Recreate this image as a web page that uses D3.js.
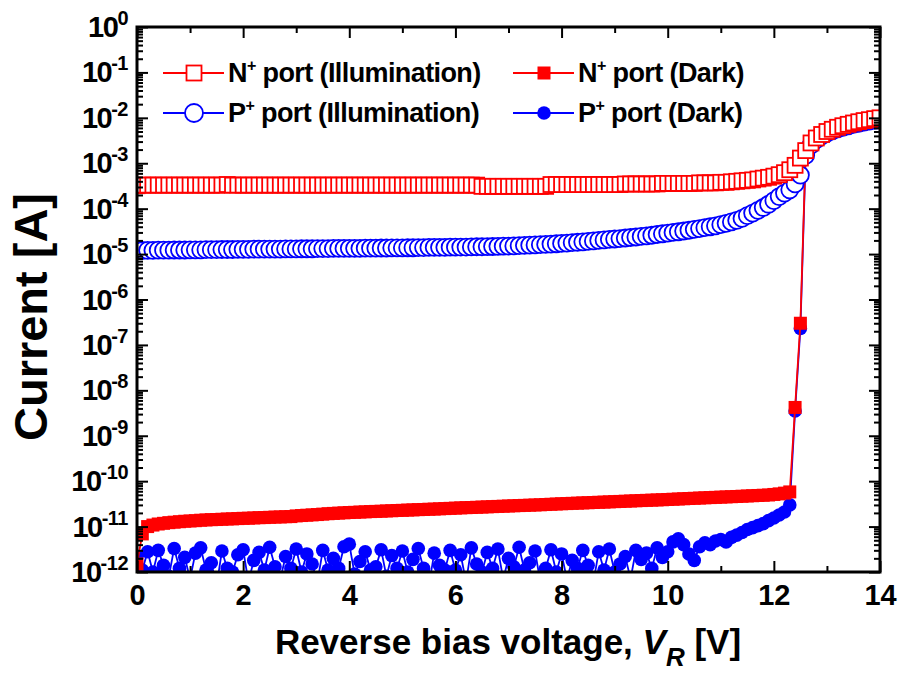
<!DOCTYPE html>
<html>
<head>
<meta charset="utf-8">
<script src="https://cdn.jsdelivr.net/npm/d3@7"></script>
<style>
  html, body { margin: 0; padding: 0; background: #fff; }
  svg { display: block; font-family: "Liberation Sans", Arial, sans-serif; font-weight: bold; }
</style>
</head>
<body>
<svg id="chart" width="903" height="674"></svg>
<script>
// Reverse-bias sweep: 0 V to 14 V in 0.1 V steps
const sweepStart = 0, sweepStep = 0.1, sweepCount = 141;
const voltage = d3.range(sweepCount).map(i => +(sweepStart + i * sweepStep).toFixed(1));

// N+ port under illumination [A]
const nIllum = [
  3.2e-4,3.3e-4,3.3e-4,3.3e-4,3.3e-4,3.3e-4,3.3e-4,3.3e-4,3.3e-4,3.3e-4,
  3.3e-4,3.3e-4,3.3e-4,3.3e-4,3.3e-4,3.3e-4,3.3e-4,3.4e-4,3.3e-4,3.3e-4,
  3.3e-4,3.3e-4,3.3e-4,3.3e-4,3.3e-4,3.3e-4,3.3e-4,3.3e-4,3.3e-4,3.3e-4,
  3.3e-4,3.3e-4,3.3e-4,3.3e-4,3.3e-4,3.3e-4,3.3e-4,3.3e-4,3.3e-4,3.3e-4,
  3.3e-4,3.3e-4,3.3e-4,3.3e-4,3.3e-4,3.3e-4,3.3e-4,3.3e-4,3.3e-4,3.3e-4,
  3.3e-4,3.3e-4,3.3e-4,3.3e-4,3.3e-4,3.3e-4,3.3e-4,3.3e-4,3.3e-4,3.3e-4,
  3.3e-4,3.3e-4,3.3e-4,3.3e-4,3.3e-4,3.1e-4,3.1e-4,3.1e-4,3.1e-4,3.1e-4,
  3.1e-4,3.1e-4,3.1e-4,3.1e-4,3.1e-4,3.1e-4,3.1e-4,3.1e-4,3.4e-4,3.4e-4,
  3.4e-4,3.4e-4,3.4e-4,3.4e-4,3.4e-4,3.4e-4,3.4e-4,3.4e-4,3.4e-4,3.4e-4,
  3.4e-4,3.4e-4,3.5e-4,3.5e-4,3.5e-4,3.5e-4,3.5e-4,3.5e-4,3.5e-4,3.6e-4,
  3.6e-4,3.6e-4,3.6e-4,3.6e-4,3.6e-4,3.6e-4,3.7e-4,3.7e-4,3.7e-4,3.7e-4,
  3.8e-4,3.8e-4,3.9e-4,4.0e-4,4.1e-4,4.2e-4,4.3e-4,4.5e-4,4.7e-4,4.9e-4,
  5.2e-4,5.6e-4,6.2e-4,7.2e-4,9.0e-4,1.3e-3,1.9e-3,2.8e-3,3.6e-3,4.3e-3,
  5.0e-3,5.6e-3,6.2e-3,6.7e-3,7.2e-3,7.7e-3,8.2e-3,8.7e-3,9.1e-3,9.6e-3,
  1.0e-2
];

// P+ port under illumination [A]
const pIllum = [
  1.20e-5,1.20e-5,1.21e-5,1.21e-5,1.22e-5,1.22e-5,1.22e-5,1.23e-5,1.23e-5,1.23e-5,
  1.24e-5,1.24e-5,1.24e-5,1.25e-5,1.25e-5,1.25e-5,1.26e-5,1.26e-5,1.26e-5,1.27e-5,
  1.27e-5,1.27e-5,1.28e-5,1.28e-5,1.28e-5,1.29e-5,1.29e-5,1.29e-5,1.30e-5,1.30e-5,
  1.30e-5,1.31e-5,1.31e-5,1.31e-5,1.32e-5,1.32e-5,1.32e-5,1.33e-5,1.33e-5,1.33e-5,
  1.34e-5,1.34e-5,1.34e-5,1.35e-5,1.35e-5,1.35e-5,1.36e-5,1.36e-5,1.37e-5,1.37e-5,
  1.37e-5,1.38e-5,1.38e-5,1.39e-5,1.39e-5,1.40e-5,1.40e-5,1.41e-5,1.41e-5,1.42e-5,
  1.42e-5,1.43e-5,1.43e-5,1.44e-5,1.45e-5,1.45e-5,1.46e-5,1.47e-5,1.48e-5,1.49e-5,
  1.50e-5,1.51e-5,1.53e-5,1.55e-5,1.57e-5,1.59e-5,1.61e-5,1.63e-5,1.66e-5,1.69e-5,
  1.72e-5,1.75e-5,1.78e-5,1.82e-5,1.86e-5,1.90e-5,1.95e-5,2.00e-5,2.05e-5,2.10e-5,
  2.15e-5,2.20e-5,2.26e-5,2.32e-5,2.38e-5,2.45e-5,2.52e-5,2.60e-5,2.70e-5,2.80e-5,
  2.90e-5,3.00e-5,3.10e-5,3.22e-5,3.35e-5,3.50e-5,3.65e-5,3.82e-5,4.00e-5,4.20e-5,
  4.45e-5,4.75e-5,5.10e-5,5.50e-5,6.10e-5,7.00e-5,8.00e-5,9.20e-5,1.06e-4,1.25e-4,
  1.50e-4,1.85e-4,2.20e-4,2.60e-4,3.50e-4,5.50e-4,1.50e-3,2.50e-3,3.30e-3,4.00e-3,
  4.60e-3,5.20e-3,5.75e-3,6.20e-3,6.70e-3,7.20e-3,7.60e-3,8.10e-3,8.50e-3,8.90e-3,
  9.30e-3
];

// N+ port in the dark [A]
const nDark = [
  1.5e-12,6.9e-12,1.00e-11,1.08e-11,1.14e-11,1.18e-11,1.22e-11,1.25e-11,1.28e-11,1.31e-11,
  1.33e-11,1.35e-11,1.38e-11,1.40e-11,1.42e-11,1.43e-11,1.45e-11,1.47e-11,1.48e-11,1.50e-11,
  1.52e-11,1.53e-11,1.55e-11,1.57e-11,1.58e-11,1.60e-11,1.62e-11,1.63e-11,1.65e-11,1.66e-11,
  1.72e-11,1.75e-11,1.78e-11,1.81e-11,1.84e-11,1.88e-11,1.92e-11,1.95e-11,1.98e-11,2.01e-11,
  2.04e-11,2.06e-11,2.09e-11,2.11e-11,2.14e-11,2.16e-11,2.18e-11,2.21e-11,2.23e-11,2.26e-11,
  2.28e-11,2.31e-11,2.33e-11,2.36e-11,2.38e-11,2.41e-11,2.43e-11,2.46e-11,2.49e-11,2.52e-11,
  2.55e-11,2.58e-11,2.61e-11,2.63e-11,2.66e-11,2.69e-11,2.72e-11,2.75e-11,2.78e-11,2.81e-11,
  2.84e-11,2.87e-11,2.90e-11,2.93e-11,2.96e-11,2.99e-11,3.02e-11,3.06e-11,3.10e-11,3.14e-11,
  3.18e-11,3.21e-11,3.25e-11,3.28e-11,3.32e-11,3.35e-11,3.39e-11,3.43e-11,3.46e-11,3.50e-11,
  3.54e-11,3.58e-11,3.62e-11,3.66e-11,3.70e-11,3.74e-11,3.78e-11,3.82e-11,3.86e-11,3.90e-11,
  3.95e-11,4.00e-11,4.05e-11,4.10e-11,4.15e-11,4.20e-11,4.25e-11,4.30e-11,4.35e-11,4.40e-11,
  4.45e-11,4.50e-11,4.55e-11,4.60e-11,4.66e-11,4.72e-11,4.78e-11,4.84e-11,4.90e-11,4.96e-11,
  5.10e-11,5.25e-11,5.45e-11,5.80e-11,4.2e-9,3.0e-7,1.9e-3,2.8e-3,3.6e-3,4.3e-3,
  5.0e-3,5.6e-3,6.2e-3,6.7e-3,7.2e-3,7.7e-3,8.2e-3,8.7e-3,9.1e-3,9.6e-3,
  1.0e-2
];

// P+ port in the dark [A]
const pDark = [
  2.2e-12,1.1e-12,2.8e-12,1.0e-12,3.0e-12,1.4e-12,0.8e-12,3.3e-12,1.2e-12,2.1e-12,
  0.7e-12,2.6e-12,3.4e-12,1.1e-12,1.6e-12,0.5e-12,2.9e-12,1.2e-12,1.0e-12,2.4e-12,
  3.1e-12,0.6e-12,1.8e-12,2.7e-12,1.1e-12,3.5e-12,1.3e-12,0.7e-12,2.2e-12,1.2e-12,
  3.2e-12,1.0e-12,2.5e-12,1.5e-12,0.6e-12,3.0e-12,1.1e-12,2.0e-12,1.2e-12,3.6e-12,
  4.1e-12,0.9e-12,1.7e-12,2.8e-12,1.1e-12,1.3e-12,3.1e-12,0.8e-12,2.3e-12,1.2e-12,
  2.9e-12,1.0e-12,1.9e-12,3.3e-12,1.2e-12,0.5e-12,2.6e-12,1.4e-12,1.1e-12,3.0e-12,
  1.1e-12,2.4e-12,0.6e-12,3.4e-12,1.5e-12,1.0e-12,2.7e-12,1.2e-12,3.2e-12,0.7e-12,
  2.0e-12,1.3e-12,3.5e-12,1.1e-12,1.6e-12,2.9e-12,0.6e-12,1.2e-12,3.1e-12,1.0e-12,
  2.5e-12,0.7e-12,1.8e-12,1.2e-12,3.0e-12,1.4e-12,0.6e-12,2.8e-12,1.1e-12,3.2e-12,
  1.0e-12,1.5e-12,2.2e-12,0.7e-12,3.0e-12,1.9e-12,2.6e-12,1.2e-12,3.4e-12,2.1e-12,
  2.8e-12,4.6e-12,5.4e-12,4.0e-12,2.5e-12,1.8e-12,3.6e-12,4.4e-12,4.0e-12,4.8e-12,
  5.2e-12,4.6e-12,5.8e-12,6.5e-12,7.4e-12,8.6e-12,9.5e-12,1.05e-11,1.16e-11,1.35e-11,
  1.55e-11,1.80e-11,2.10e-11,3.00e-11,3.5e-9,2.3e-7,1.50e-3,2.50e-3,3.30e-3,4.00e-3,
  4.60e-3,5.20e-3,5.75e-3,6.20e-3,6.70e-3,7.20e-3,7.60e-3,8.10e-3,8.50e-3,8.90e-3,
  9.30e-3
];

const xTicks = [0, 2, 4, 6, 8, 10, 12, 14];
const xMinorTicks = [1, 3, 5, 7, 9, 11, 13];
const yDecades = [0, -1, -2, -3, -4, -5, -6, -7, -8, -9, -10, -11, -12];

const RED = "#ff0000", BLUE = "#0000ff";
const svg = d3.select("#chart");
const frame = { left: 137, right: 880, top: 27, bottom: 572 };

const x = d3.scaleLinear().domain([0, 14]).range([frame.left, frame.right]);
const y = d3.scaleLog().domain([1e-12, 1]).range([frame.bottom, frame.top]);

const majorY = yDecades.map(e => Math.pow(10, e));
const minorY = [];
yDecades.slice(1).forEach(e => { for (let m = 2; m <= 9; m++) minorY.push(m * Math.pow(10, e)); });

// Data layer, clipped to the frame
svg.append("clipPath").attr("id", "plotClip")
  .append("rect").attr("x", frame.left).attr("y", frame.top)
  .attr("width", frame.right - frame.left).attr("height", frame.bottom - frame.top);
const plot = svg.append("g").attr("clip-path", "url(#plotClip)");

function series(values) { return voltage.map((v, i) => ({ v, i: values[i] })); }
const line = d3.line().x(d => x(d.v)).y(d => y(d.i));

// P+ dark
const pd = series(pDark);
plot.append("path").datum(pd).attr("d", line).attr("fill", "none").attr("stroke", BLUE).attr("stroke-width", 1.8);
plot.append("g").selectAll("circle").data(pd).join("circle")
  .attr("cx", d => x(d.v)).attr("cy", d => y(d.i)).attr("r", 6.8).attr("fill", BLUE);

// N+ dark
const nd = series(nDark);
plot.append("path").datum(nd).attr("d", line).attr("fill", "none").attr("stroke", RED).attr("stroke-width", 1.8);
plot.append("g").selectAll("rect").data(nd).join("rect")
  .attr("x", d => x(d.v) - 6.5).attr("y", d => y(d.i) - 6.5).attr("width", 13).attr("height", 13).attr("fill", RED);

// P+ illumination
const pi = series(pIllum);
plot.append("path").datum(pi).attr("d", line).attr("fill", "none").attr("stroke", BLUE).attr("stroke-width", 1.8);
plot.append("g").selectAll("circle").data(pi).join("circle")
  .attr("cx", d => x(d.v)).attr("cy", d => y(d.i)).attr("r", 8.5)
  .attr("fill", "#fff").attr("stroke", BLUE).attr("stroke-width", 1.8);

// N+ illumination
const ni = series(nIllum);
plot.append("path").datum(ni).attr("d", line).attr("fill", "none").attr("stroke", RED).attr("stroke-width", 1.8);
plot.append("g").selectAll("rect").data(ni).join("rect")
  .attr("x", d => x(d.v) - 7.5).attr("y", d => y(d.i) - 7.5).attr("width", 15).attr("height", 15)
  .attr("fill", "#fff").attr("stroke", RED).attr("stroke-width", 1.8);

// Axes: ticks point inward on all four sides
function styleAxis(g) {
  g.select(".domain").remove();
  g.selectAll(".tick line").attr("stroke", "#000").attr("stroke-width", 2);
}
svg.append("g").attr("transform", `translate(0,${frame.bottom})`)
  .call(d3.axisBottom(x).tickValues(xTicks).tickSize(-11).tickPadding(12).tickFormat(d3.format("d")))
  .call(styleAxis)
  .call(g => g.selectAll("text").attr("font-size", 29).attr("font-family", "Liberation Sans, Arial, sans-serif")
    .attr("font-weight", "bold").attr("fill", "#000"));
svg.append("g").attr("transform", `translate(0,${frame.bottom})`)
  .call(d3.axisBottom(x).tickValues(xMinorTicks).tickSize(-6).tickFormat("")).call(styleAxis);
svg.append("g").attr("transform", `translate(0,${frame.top})`)
  .call(d3.axisTop(x).tickValues(xTicks).tickSize(-11).tickFormat("")).call(styleAxis);
svg.append("g").attr("transform", `translate(0,${frame.top})`)
  .call(d3.axisTop(x).tickValues(xMinorTicks).tickSize(-6).tickFormat("")).call(styleAxis);

svg.append("g").attr("transform", `translate(${frame.left},0)`)
  .call(d3.axisLeft(y).tickValues(majorY).tickSize(-11).tickFormat("")).call(styleAxis);
svg.append("g").attr("transform", `translate(${frame.left},0)`)
  .call(d3.axisLeft(y).tickValues(minorY).tickSize(-6).tickFormat("")).call(styleAxis);
svg.append("g").attr("transform", `translate(${frame.right},0)`)
  .call(d3.axisRight(y).tickValues(majorY).tickSize(-11).tickFormat("")).call(styleAxis);
svg.append("g").attr("transform", `translate(${frame.right},0)`)
  .call(d3.axisRight(y).tickValues(minorY).tickSize(-6).tickFormat("")).call(styleAxis);

// Frame
svg.append("rect").attr("x", frame.left).attr("y", frame.top)
  .attr("width", frame.right - frame.left).attr("height", frame.bottom - frame.top)
  .attr("fill", "none").attr("stroke", "#000").attr("stroke-width", 3);

// Decade labels 10^n
const yLab = svg.append("g").attr("text-anchor", "end").attr("fill", "#000");
yDecades.forEach(e => {
  const t = yLab.append("text").attr("x", 128).attr("y", y(Math.pow(10, e)) + 10)
    .attr("font-size", 29).style("letter-spacing", "-1.5px");
  t.append("tspan").text("10");
  t.append("tspan").attr("font-size", 20).attr("dy", -12).style("letter-spacing", "-0.5px").text(String(e));
});

// Axis titles
const xt = svg.append("text").attr("x", 508).attr("y", 654).attr("text-anchor", "middle")
  .attr("font-size", 35).attr("fill", "#000");
xt.append("tspan").text("Reverse bias voltage, ");
xt.append("tspan").attr("font-style", "italic").text("V");
xt.append("tspan").attr("font-size", 26).attr("dy", 12).attr("font-style", "italic").text("R");
xt.append("tspan").attr("dy", -12).text(" [V]");

svg.append("text").attr("transform", "translate(47,317) rotate(-90)").attr("text-anchor", "middle")
  .attr("font-size", 47).attr("fill", "#000").text("Current [A]");

// Legend
const legendItems = [
  { base: "N", rest: " port (Illumination)", color: RED, shape: "square", filled: false, lx: 163, ly: 73 },
  { base: "P", rest: " port (Illumination)", color: BLUE, shape: "circle", filled: false, lx: 163, ly: 113 },
  { base: "N", rest: " port (Dark)", color: RED, shape: "square", filled: true, lx: 513, ly: 73 },
  { base: "P", rest: " port (Dark)", color: BLUE, shape: "circle", filled: true, lx: 513, ly: 113 }
];
const lg = svg.append("g");
legendItems.forEach(it => {
  const g = lg.append("g");
  g.append("line").attr("x1", it.lx).attr("x2", it.lx + 61).attr("y1", it.ly).attr("y2", it.ly)
    .attr("stroke", it.color).attr("stroke-width", 2);
  const cx = it.lx + 31;
  if (it.shape === "square") {
    const s = it.filled ? 13 : 15;
    g.append("rect").attr("x", cx - s / 2).attr("y", it.ly - s / 2).attr("width", s).attr("height", s)
      .attr("fill", it.filled ? it.color : "#fff").attr("stroke", it.filled ? "none" : it.color).attr("stroke-width", 1.8);
  } else {
    g.append("circle").attr("cx", cx).attr("cy", it.ly).attr("r", it.filled ? 6.8 : 9)
      .attr("fill", it.filled ? it.color : "#fff").attr("stroke", it.filled ? "none" : it.color).attr("stroke-width", 1.8);
  }
  const t = g.append("text").attr("x", it.lx + 65).attr("y", it.ly + 9).attr("font-size", 27)
    .attr("fill", "#000").style("letter-spacing", "-0.6px");
  t.append("tspan").text(it.base);
  t.append("tspan").attr("font-size", 16).attr("dy", -11).text("+");
  t.append("tspan").attr("dy", 11).text(it.rest);
});
</script>
</body>
</html>
